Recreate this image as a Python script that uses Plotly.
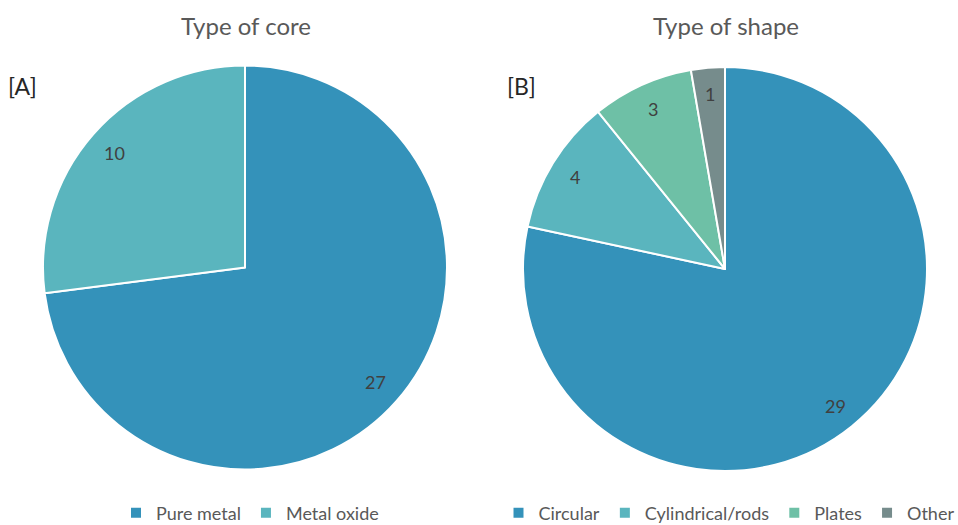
import math
import plotly.graph_objects as go

W, H = 958, 525

core_labels = ["Pure metal", "Metal oxide"]
core_values = [27, 10]
core_colors = ["#3492BA", "#5AB5BE"]

shape_labels = ["Circular", "Cylindrical/rods", "Plates", "Other"]
shape_values = [29, 4, 3, 1]
shape_colors = ["#3492BA", "#5AB5BE", "#6EC0A6", "#768C8C"]

FONT = "Lato, Open Sans, sans-serif"
TXT = "#404040"

# pie geometry in reference pixels (center x, center y from top, radius)
pies = [
    dict(labels=core_labels, values=core_values, colors=core_colors,
         cx=245, cy=267.5, r=202, legend="legend", title="Type of core",
         tx=246, tag="[A]", tagx=22, rf=0.86),
    dict(labels=shape_labels, values=shape_values, colors=shape_colors,
         cx=725, cy=269, r=202, legend="legend2", title="Type of shape",
         tx=726, tag="[B]", tagx=521, rf=0.87),
]


def px(x):
    return x / W


def py(y):
    return 1 - y / H


fig = go.Figure()
annotations = []
for p in pies:
    fig.add_trace(go.Pie(
        labels=p["labels"], values=p["values"],
        marker=dict(colors=p["colors"], line=dict(color="white", width=2)),
        sort=False, direction="clockwise", rotation=0,
        textinfo="none", hoverinfo="label+value",
        domain=dict(x=[px(p["cx"] - p["r"]), px(p["cx"] + p["r"])],
                    y=[py(p["cy"] + p["r"]), py(p["cy"] - p["r"])]),
        legend=p["legend"], showlegend=True,
    ))
    total = sum(p["values"])
    cum = 0
    for v in p["values"]:
        mid = (cum + v / 2) / total * 2 * math.pi
        cum += v
        lx = p["cx"] + p["rf"] * p["r"] * math.sin(mid)
        ly = p["cy"] - p["rf"] * p["r"] * math.cos(mid)
        annotations.append(dict(x=px(lx), y=py(ly), xref="paper", yref="paper",
                                xanchor="center", yanchor="middle",
                                text=str(v), showarrow=False,
                                font=dict(family=FONT, size=18, color=TXT)))
    annotations.append(dict(x=px(p["tx"]), y=py(25), xref="paper", yref="paper",
                            xanchor="center", yanchor="middle",
                            text=p["title"], showarrow=False,
                            font=dict(family=FONT, size=24, color="#595959")))
    annotations.append(dict(x=px(p["tagx"]), y=py(86), xref="paper", yref="paper",
                            xanchor="center", yanchor="middle",
                            text=p["tag"], showarrow=False,
                            font=dict(family=FONT, size=23, color="#262626")))

legend_common = dict(orientation="h", yanchor="middle", xanchor="center",
                     font=dict(family=FONT, size=18, color="#595959"),
                     itemwidth=30, bgcolor="rgba(0,0,0,0)", tracegroupgap=0)

fig.update_layout(
    width=W, height=H,
    margin=dict(l=0, r=0, t=0, b=0, autoexpand=False),
    paper_bgcolor="white", plot_bgcolor="white",
    annotations=annotations,
    legend=dict(x=px(250), y=py(513), **legend_common),
    legend2=dict(x=px(729), y=py(513), **legend_common),
)

# remove the browser's default 8px body margin so the figure fills the window exactly
fig.write_html("out.html",
               config={"displayModeBar": False},
               post_script="document.body.style.margin='0';"
                           "document.body.style.overflow='hidden';")
